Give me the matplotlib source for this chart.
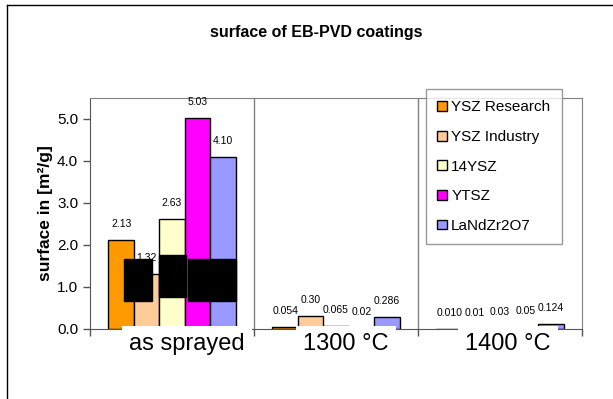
import matplotlib.pyplot as plt
from matplotlib.patches import Rectangle
from matplotlib.lines import Line2D
import numpy as np

plt.rcParams['font.family'] = ['Liberation Sans', 'DejaVu Sans']

groups = ['as sprayed', '1300 °C', '1400 °C']
series = ['YSZ Research', 'YSZ Industry', '14YSZ', 'YTSZ', 'LaNdZr2O7']
colors = ['#FF9900', '#FFCC99', '#FFFFCC', '#FF00FF', '#9999FF']

# surface per coating, one list per series (as sprayed, 1300, 1400)
ysz_research = [2.13, 0.054, 0.010]
ysz_industry = [1.32, 0.30, 0.01]
ysz14 = [2.63, 0.065, 0.03]
ytsz = [5.03, 0.02, 0.05]
landzr = [4.10, 0.286, 0.124]

# printed value labels
lbl_research = ['2.13', '0.054', '0.010']
lbl_industry = ['1.32', '0.30', '0.01']
lbl_14ysz = ['2.63', '0.065', '0.03']
lbl_ytsz = ['5.03', '0.02', '0.05']
lbl_landzr = ['4.10', '0.286', '0.124']

values = [ysz_research, ysz_industry, ysz14, ytsz, landzr]
labels = [lbl_research, lbl_industry, lbl_14ysz, lbl_ytsz, lbl_landzr]

fig = plt.figure(figsize=(6.13, 3.99), dpi=100)
ax = fig.add_axes([90/613, 1-329/399, 492/613, 231/399])

x = np.arange(len(groups))
w = 0.155
for i, (vals, lbls) in enumerate(zip(values, labels)):
    pos = x + (i - 2) * w
    ax.bar(pos, vals, w, color=colors[i], edgecolor='black', linewidth=1,
           label=series[i], zorder=2)
    for px, v, s in zip(pos, vals, lbls):
        ax.annotate(s, (px, v), xytext=(0, 16), textcoords='offset pixels',
                    ha='center', va='center', fontsize=7.5, zorder=4)

# blacked-out blocks over the first group
for x0, x1, y0, y1 in [(-0.290, -0.125, 0.67, 1.66),
                       (-0.082, 0.088, 0.77, 1.75),
                       (0.095, 0.393, 0.67, 1.66)]:
    ax.add_patch(Rectangle((x0, y0), x1 - x0, y1 - y0, color='black', zorder=5))

ax.set_xlim(-0.5, 2.5)
ax.set_ylim(0, 5.5)
ax.set_yticks(np.arange(0, 5.1, 1.0))
ax.set_yticklabels([f'{t:.1f}' for t in np.arange(0, 5.1, 1.0)], fontsize=11)
ax.set_xticks([-0.5, 0.5, 1.5, 2.5])
ax.set_xticklabels([])
ax.tick_params(axis='both', direction='out', length=5, color='#555555', width=1)
for b in [0.5, 1.5]:
    ax.axvline(b, color='#808080', linewidth=1, zorder=1)
for sp in ['top', 'right']:
    ax.spines[sp].set_color('#808080')
for sp in ['left', 'bottom']:
    ax.spines[sp].set_color('#555555')

# category names on white boxes
label_x = [0.09, 1.06, 2.05]
for gx, g in zip(label_x, groups):
    ax.text(gx, -0.065, g, transform=ax.get_xaxis_transform(), ha='center',
            va='center', fontsize=17, zorder=6,
            bbox=dict(boxstyle='square,pad=0.3', facecolor='white',
                      edgecolor='none'))

ax.set_ylabel('surface in [m²/g]', fontsize=12.5, fontweight='bold', labelpad=3)
fig.text(316/613, 1-32/399, 'surface of EB-PVD coatings', ha='center',
         va='center', fontsize=11.5, fontweight='bold')

leg = ax.legend(loc='upper left', bbox_to_anchor=(426/613, 1-89/399),
                bbox_transform=fig.transFigure, borderaxespad=0,
                fontsize=11, frameon=True, fancybox=False, edgecolor='#808080',
                handlelength=0.6, handleheight=0.6, handletextpad=0.3,
                labelspacing=1.02, borderpad=0.75)
leg.get_frame().set_linewidth(1)
leg.set_zorder(7)

# outer chart border
fig.add_artist(Line2D([7/613, 7/613], [0, 1-5/399], color='black', linewidth=1))
fig.add_artist(Line2D([7/613, 1], [1-5/399, 1-5/399], color='black', linewidth=1))

fig.savefig('out.png', dpi=100)
